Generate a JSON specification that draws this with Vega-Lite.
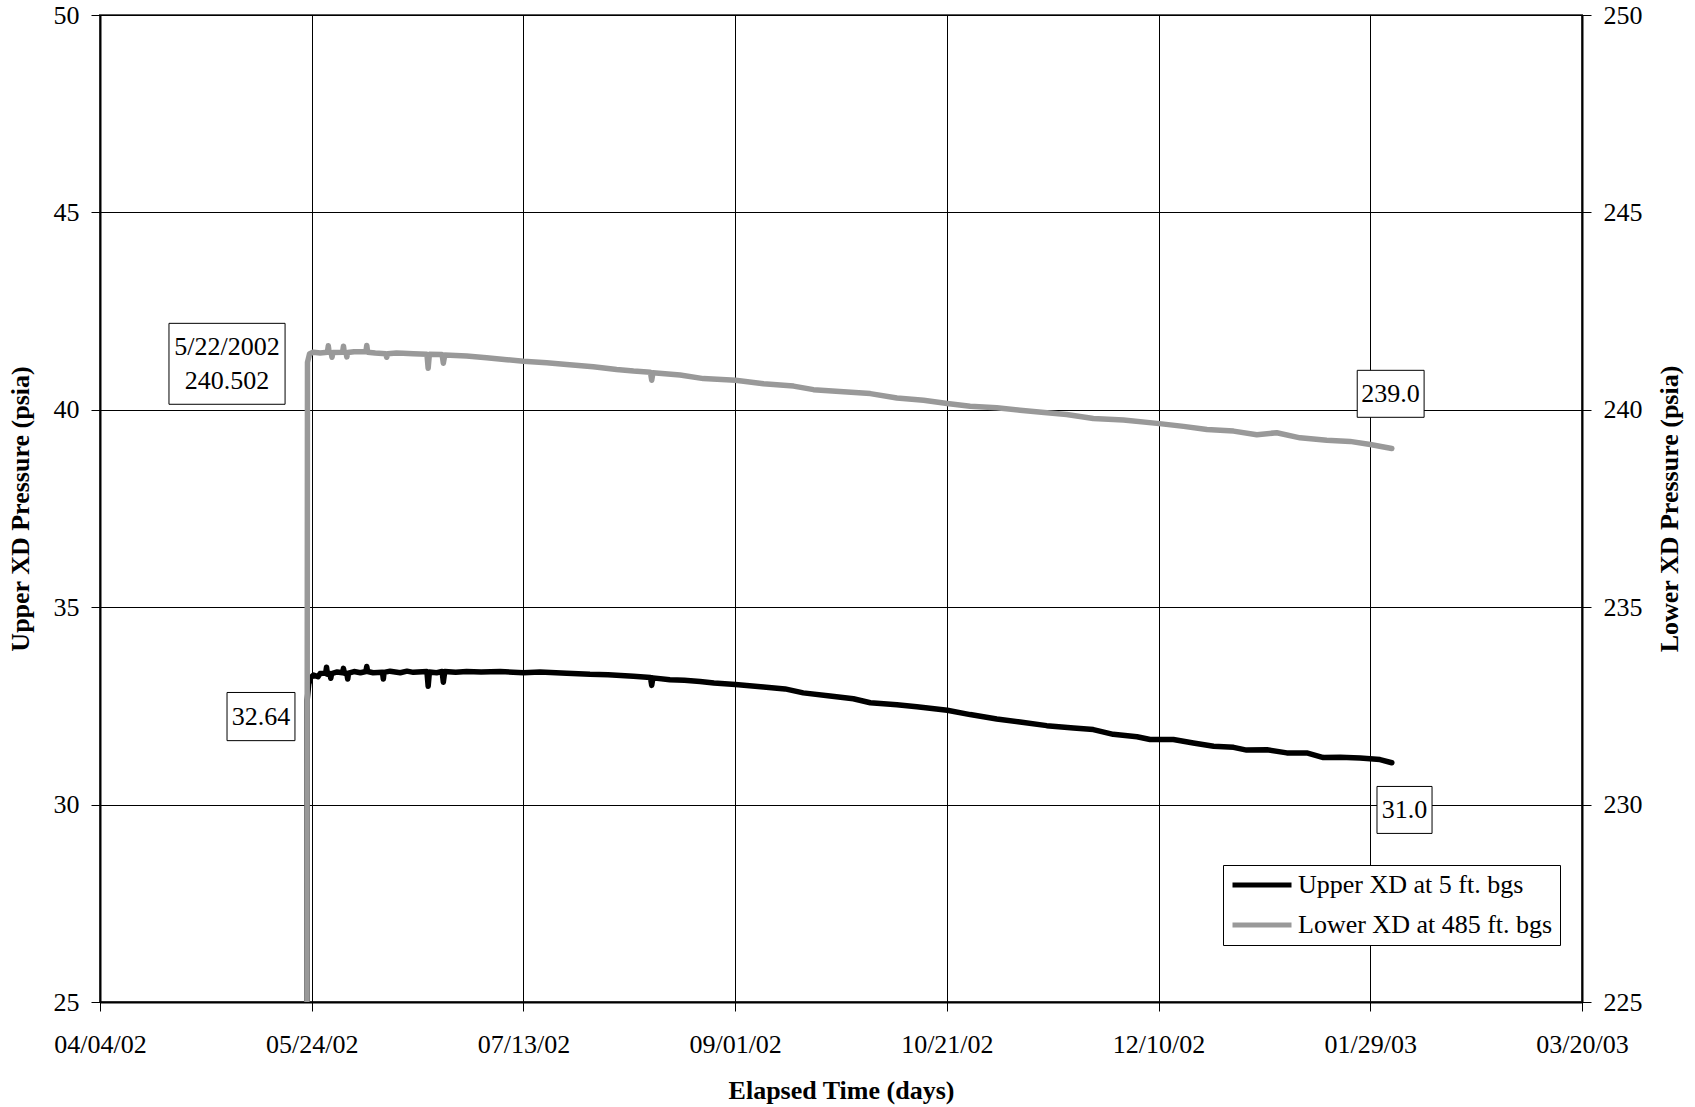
{
  "$schema": "https://vega.github.io/schema/vega-lite/v6.json",
  "width": 1482,
  "height": 987,
  "autosize": {"type": "none"},
  "padding": {"left": 100, "top": 15, "right": 113, "bottom": 105},
  "background": "white",
  "config": {
    "font": "Liberation Serif",
    "view": {"stroke": "#555555", "strokeWidth": 2},
    "axis": {
      "labelFont": "Liberation Serif",
      "labelFontSize": 26,
      "labelColor": "#000000",
      "titleFont": "Liberation Serif",
      "titleFontSize": 26,
      "titleFontWeight": "bold",
      "titleColor": "#000000",
      "tickColor": "#000000",
      "tickSize": 9,
      "tickWidth": 1,
      "domainColor": "#000000",
      "domainWidth": 2,
      "gridColor": "#000000",
      "gridWidth": 1,
      "gridOpacity": 1
    },
    "legend": {
      "labelFont": "Liberation Serif",
      "labelFontSize": 26,
      "labelColor": "#000000",
      "labelLimit": 500
    }
  },
  "datasets": {
    "upper": [
      {"date": "2002-05-22T19:00", "psia": 14.0},
      {"date": "2002-05-22T22:00", "psia": 32.64},
      {"date": "2002-05-23T07:00", "psia": 33.05},
      {"date": "2002-05-23T19:00", "psia": 33.22},
      {"date": "2002-05-24T10:00", "psia": 33.28},
      {"date": "2002-05-25T12:00", "psia": 33.24},
      {"date": "2002-05-26T00:00", "psia": 33.32},
      {"date": "2002-05-27T07:00", "psia": 33.33},
      {"date": "2002-05-27T12:00", "psia": 33.48},
      {"date": "2002-05-27T17:00", "psia": 33.30},
      {"date": "2002-05-28T07:00", "psia": 33.32},
      {"date": "2002-05-28T12:00", "psia": 33.20},
      {"date": "2002-05-28T17:00", "psia": 33.32},
      {"date": "2002-05-30T00:00", "psia": 33.36},
      {"date": "2002-05-31T07:00", "psia": 33.34},
      {"date": "2002-05-31T12:00", "psia": 33.45},
      {"date": "2002-05-31T17:00", "psia": 33.33},
      {"date": "2002-06-01T07:00", "psia": 33.33},
      {"date": "2002-06-01T12:00", "psia": 33.18},
      {"date": "2002-06-01T17:00", "psia": 33.33},
      {"date": "2002-06-03T00:00", "psia": 33.37},
      {"date": "2002-06-04T12:00", "psia": 33.34},
      {"date": "2002-06-05T19:00", "psia": 33.37},
      {"date": "2002-06-06T00:00", "psia": 33.50},
      {"date": "2002-06-06T05:00", "psia": 33.37},
      {"date": "2002-06-07T12:00", "psia": 33.34},
      {"date": "2002-06-09T17:00", "psia": 33.35},
      {"date": "2002-06-09T22:00", "psia": 33.18},
      {"date": "2002-06-10T02:00", "psia": 33.35},
      {"date": "2002-06-11T12:00", "psia": 33.38},
      {"date": "2002-06-13T22:00", "psia": 33.34},
      {"date": "2002-06-15T12:00", "psia": 33.38},
      {"date": "2002-06-17T00:00", "psia": 33.35},
      {"date": "2002-06-20T05:00", "psia": 33.37},
      {"date": "2002-06-20T12:00", "psia": 33.00},
      {"date": "2002-06-20T19:00", "psia": 33.36},
      {"date": "2002-06-22T12:00", "psia": 33.34},
      {"date": "2002-06-23T19:00", "psia": 33.37},
      {"date": "2002-06-24T02:00", "psia": 33.10},
      {"date": "2002-06-24T10:00", "psia": 33.37},
      {"date": "2002-06-27T00:00", "psia": 33.35},
      {"date": "2002-06-29T14:00", "psia": 33.37},
      {"date": "2002-07-03T00:00", "psia": 33.36},
      {"date": "2002-07-07T12:00", "psia": 33.37},
      {"date": "2002-07-13T00:00", "psia": 33.34},
      {"date": "2002-07-16T22:00", "psia": 33.36},
      {"date": "2002-07-23T05:00", "psia": 33.33},
      {"date": "2002-07-28T17:00", "psia": 33.30},
      {"date": "2002-08-02T00:00", "psia": 33.29},
      {"date": "2002-08-08T00:00", "psia": 33.25},
      {"date": "2002-08-12T00:00", "psia": 33.22},
      {"date": "2002-08-12T07:00", "psia": 33.02},
      {"date": "2002-08-12T14:00", "psia": 33.21},
      {"date": "2002-08-16T14:00", "psia": 33.16},
      {"date": "2002-08-20T00:00", "psia": 33.15},
      {"date": "2002-08-23T17:00", "psia": 33.12},
      {"date": "2002-08-27T00:00", "psia": 33.08},
      {"date": "2002-09-01T02:00", "psia": 33.04},
      {"date": "2002-09-07T17:00", "psia": 32.98},
      {"date": "2002-09-12T19:00", "psia": 32.93},
      {"date": "2002-09-17T02:00", "psia": 32.83},
      {"date": "2002-09-23T10:00", "psia": 32.75},
      {"date": "2002-09-28T22:00", "psia": 32.68},
      {"date": "2002-10-02T22:00", "psia": 32.58},
      {"date": "2002-10-09T05:00", "psia": 32.53},
      {"date": "2002-10-13T22:00", "psia": 32.48},
      {"date": "2002-10-21T02:00", "psia": 32.39},
      {"date": "2002-10-26T12:00", "psia": 32.28},
      {"date": "2002-11-01T19:00", "psia": 32.17},
      {"date": "2002-11-07T07:00", "psia": 32.09},
      {"date": "2002-11-13T14:00", "psia": 32.00},
      {"date": "2002-11-19T22:00", "psia": 31.94},
      {"date": "2002-11-24T14:00", "psia": 31.90},
      {"date": "2002-11-29T07:00", "psia": 31.78},
      {"date": "2002-12-04T22:00", "psia": 31.72},
      {"date": "2002-12-08T00:00", "psia": 31.65},
      {"date": "2002-12-13T12:00", "psia": 31.65},
      {"date": "2002-12-18T05:00", "psia": 31.56},
      {"date": "2002-12-23T00:00", "psia": 31.48},
      {"date": "2002-12-27T17:00", "psia": 31.45},
      {"date": "2002-12-30T19:00", "psia": 31.38},
      {"date": "2003-01-04T14:00", "psia": 31.39},
      {"date": "2003-01-09T07:00", "psia": 31.31},
      {"date": "2003-01-14T00:00", "psia": 31.31},
      {"date": "2003-01-17T22:00", "psia": 31.19},
      {"date": "2003-01-21T22:00", "psia": 31.20},
      {"date": "2003-01-26T14:00", "psia": 31.18},
      {"date": "2003-01-31T07:00", "psia": 31.14},
      {"date": "2003-02-03T02:00", "psia": 31.06}
    ],
    "lower": [
      {"date": "2002-05-22T19:00", "psia": 215.0},
      {"date": "2002-05-23T00:00", "psia": 241.20},
      {"date": "2002-05-23T12:00", "psia": 241.42},
      {"date": "2002-05-24T10:00", "psia": 241.46},
      {"date": "2002-05-26T00:00", "psia": 241.44},
      {"date": "2002-05-27T17:00", "psia": 241.46},
      {"date": "2002-05-27T22:00", "psia": 241.62},
      {"date": "2002-05-28T03:00", "psia": 241.45},
      {"date": "2002-05-28T14:00", "psia": 241.45},
      {"date": "2002-05-28T19:00", "psia": 241.33},
      {"date": "2002-05-29T00:00", "psia": 241.45},
      {"date": "2002-05-31T07:00", "psia": 241.46},
      {"date": "2002-05-31T12:00", "psia": 241.61},
      {"date": "2002-05-31T17:00", "psia": 241.45},
      {"date": "2002-06-01T02:00", "psia": 241.45},
      {"date": "2002-06-01T07:00", "psia": 241.34},
      {"date": "2002-06-01T12:00", "psia": 241.45},
      {"date": "2002-06-03T00:00", "psia": 241.47},
      {"date": "2002-06-05T19:00", "psia": 241.47},
      {"date": "2002-06-06T00:00", "psia": 241.63},
      {"date": "2002-06-06T05:00", "psia": 241.46},
      {"date": "2002-06-08T00:00", "psia": 241.44},
      {"date": "2002-06-10T12:00", "psia": 241.42},
      {"date": "2002-06-10T17:00", "psia": 241.33},
      {"date": "2002-06-10T22:00", "psia": 241.42},
      {"date": "2002-06-13T00:00", "psia": 241.44},
      {"date": "2002-06-14T14:00", "psia": 241.43},
      {"date": "2002-06-17T00:00", "psia": 241.42},
      {"date": "2002-06-20T05:00", "psia": 241.41},
      {"date": "2002-06-20T12:00", "psia": 241.05},
      {"date": "2002-06-20T19:00", "psia": 241.41},
      {"date": "2002-06-23T19:00", "psia": 241.40},
      {"date": "2002-06-24T02:00", "psia": 241.18},
      {"date": "2002-06-24T10:00", "psia": 241.39},
      {"date": "2002-06-29T14:00", "psia": 241.36},
      {"date": "2002-07-04T07:00", "psia": 241.32},
      {"date": "2002-07-09T02:00", "psia": 241.27},
      {"date": "2002-07-13T00:00", "psia": 241.23},
      {"date": "2002-07-18T12:00", "psia": 241.19},
      {"date": "2002-07-23T05:00", "psia": 241.15},
      {"date": "2002-07-29T12:00", "psia": 241.09},
      {"date": "2002-08-04T00:00", "psia": 241.02},
      {"date": "2002-08-08T00:00", "psia": 240.98},
      {"date": "2002-08-12T00:00", "psia": 240.95},
      {"date": "2002-08-12T07:00", "psia": 240.75},
      {"date": "2002-08-12T14:00", "psia": 240.94},
      {"date": "2002-08-19T00:00", "psia": 240.88},
      {"date": "2002-08-24T12:00", "psia": 240.79},
      {"date": "2002-09-01T02:00", "psia": 240.75},
      {"date": "2002-09-07T17:00", "psia": 240.66},
      {"date": "2002-09-14T19:00", "psia": 240.60},
      {"date": "2002-09-19T12:00", "psia": 240.51},
      {"date": "2002-09-26T14:00", "psia": 240.46},
      {"date": "2002-10-02T22:00", "psia": 240.41},
      {"date": "2002-10-09T05:00", "psia": 240.30},
      {"date": "2002-10-15T12:00", "psia": 240.24},
      {"date": "2002-10-21T02:00", "psia": 240.16},
      {"date": "2002-10-26T12:00", "psia": 240.09},
      {"date": "2002-11-01T19:00", "psia": 240.05},
      {"date": "2002-11-07T07:00", "psia": 239.99},
      {"date": "2002-11-13T00:00", "psia": 239.93},
      {"date": "2002-11-18T07:00", "psia": 239.88},
      {"date": "2002-11-24T14:00", "psia": 239.78},
      {"date": "2002-12-01T17:00", "psia": 239.74},
      {"date": "2002-12-10T05:00", "psia": 239.65},
      {"date": "2002-12-15T22:00", "psia": 239.58},
      {"date": "2002-12-21T10:00", "psia": 239.50},
      {"date": "2002-12-27T17:00", "psia": 239.46},
      {"date": "2003-01-02T05:00", "psia": 239.37},
      {"date": "2003-01-06T22:00", "psia": 239.42},
      {"date": "2003-01-12T10:00", "psia": 239.29},
      {"date": "2003-01-18T17:00", "psia": 239.23},
      {"date": "2003-01-24T05:00", "psia": 239.20},
      {"date": "2003-01-29T00:00", "psia": 239.12},
      {"date": "2003-02-03T02:00", "psia": 239.02}
    ],
    "boxes": [
      {"date": "2002-04-20T07:00", "date2": "2002-05-17T17:00", "psia": 42.19, "psia2": 40.14},
      {"date": "2002-05-04T00:00", "date2": "2002-05-20T01:00", "psia": 32.84, "psia2": 31.62},
      {"date": "2003-01-25T22:00", "date2": "2003-02-10T17:00", "psia": 41.0, "psia2": 39.81},
      {"date": "2003-01-30T14:00", "date2": "2003-02-12T14:00", "psia": 30.46, "psia2": 29.27}
    ],
    "labels": [
      {"date": "2002-05-04T00:00", "psia": 41.60, "label": "5/22/2002|240.502"},
      {"date": "2002-05-12T00:00", "psia": 32.23, "label": "32.64"},
      {"date": "2003-02-02T19:00", "psia": 40.40, "label": "239.0"},
      {"date": "2003-02-06T02:00", "psia": 29.86, "label": "31.0"}
    ]
  },
  "encoding": {
    "x": {
      "field": "date",
      "type": "temporal",
      "scale": {"domain": [{"year": 2002, "month": 4, "date": 4}, {"year": 2003, "month": 3, "date": 20}]},
      "axis": {
        "values": [
          {"year": 2002, "month": 4, "date": 4},
          {"year": 2002, "month": 5, "date": 24},
          {"year": 2002, "month": 7, "date": 13},
          {"year": 2002, "month": 9, "date": 1},
          {"year": 2002, "month": 10, "date": 21},
          {"year": 2002, "month": 12, "date": 10},
          {"year": 2003, "month": 1, "date": 29},
          {"year": 2003, "month": 3, "date": 20}
        ],
        "format": "%m/%d/%y",
        "title": "Elapsed Time (days)",
        "grid": true,
        "labelPadding": 20,
        "titlePadding": 20,
        "labelFlush": false,
        "labelOverlap": false
      }
    }
  },
  "layer": [
    {
      "layer": [
        {
          "data": {"name": "upper"},
          "mark": {"type": "line", "clip": true, "strokeWidth": 5.5, "strokeJoin": "round", "strokeCap": "round"},
          "encoding": {
            "y": {
              "field": "psia",
              "type": "quantitative",
              "scale": {"domain": [25, 50], "nice": false, "zero": false},
              "axis": {
                "orient": "left",
                "values": [25, 30, 35, 40, 45, 50],
                "title": "Upper XD Pressure (psia)",
                "grid": true,
                "labelPadding": 12,
                "titlePadding": 20
              }
            },
            "color": {
              "datum": "Upper XD at 5 ft. bgs",
              "type": "nominal",
              "scale": {"domain": ["Upper XD at 5 ft. bgs", "Lower XD at 485 ft. bgs"], "range": ["#000000", "#999999"]},
              "legend": {
                "title": null,
                "orient": "none",
                "legendX": 1123,
                "legendY": 850,
                "strokeColor": "#000000",
                "fillColor": "#ffffff",
                "padding": 7,
                "symbolType": "stroke",
                "symbolSize": 3481,
                "symbolStrokeWidth": 5,
                "clipHeight": 26,
                "rowPadding": 14,
                "labelOffset": 4,
                "labelLimit": 500
              }
            }
          }
        },
        {
          "data": {"name": "boxes"},
          "mark": {"type": "rect", "fill": "#ffffff", "stroke": "#000000", "strokeWidth": 1},
          "encoding": {
            "x2": {"field": "date2"},
            "y": {"field": "psia", "type": "quantitative", "scale": {"domain": [25, 50], "nice": false, "zero": false}},
            "y2": {"field": "psia2"}
          }
        },
        {
          "data": {"name": "labels"},
          "mark": {"type": "text", "font": "Liberation Serif", "fontSize": 26, "color": "#000000", "align": "center", "baseline": "middle", "lineBreak": "|", "lineHeight": 34},
          "encoding": {
            "y": {"field": "psia", "type": "quantitative", "scale": {"domain": [25, 50], "nice": false, "zero": false}},
            "text": {"field": "label", "type": "nominal"}
          }
        }
      ]
    },
    {
      "data": {"name": "lower"},
      "mark": {"type": "line", "clip": true, "strokeWidth": 5.5, "strokeJoin": "round", "strokeCap": "round"},
      "encoding": {
        "y": {
          "field": "psia",
          "type": "quantitative",
          "scale": {"domain": [225, 250], "nice": false, "zero": false},
          "axis": {
            "orient": "right",
            "values": [225, 230, 235, 240, 245, 250],
            "title": "Lower XD Pressure (psia)",
            "grid": false,
            "labelPadding": 12,
            "titlePadding": 14,
            "titleAngle": -90,
            "titleBaseline": "top"
          }
        },
        "color": {"datum": "Lower XD at 485 ft. bgs", "type": "nominal"}
      }
    }
  ],
  "resolve": {"scale": {"y": "independent"}}
}
